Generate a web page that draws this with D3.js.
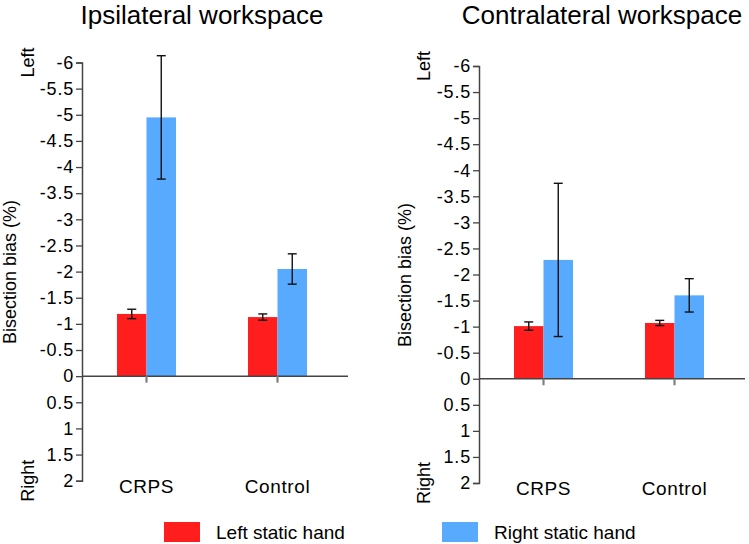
<!DOCTYPE html>
<html>
<head>
<meta charset="utf-8">
<script src="https://cdn.jsdelivr.net/npm/d3@7/dist/d3.min.js"></script>
<style>
  html, body { margin: 0; padding: 0; background: #fff; }
  svg { display: block; }
  text { font-family: "Liberation Sans", Arial, sans-serif; fill: #000; }
</style>
</head>
<body>
<svg id="chart" width="749" height="544"></svg>
<script>
// ---- data ----
const categories = ["CRPS", "Control"];
const seriesNames = ["Left static hand", "Right static hand"];
const seriesColors = ["#ff1d1d", "#57aaff"];
const yTicks = [-6, -5.5, -5, -4.5, -4, -3.5, -3, -2.5, -2, -1.5, -1, -0.5, 0, 0.5, 1, 1.5, 2];

const ipsiLeft = [-1.19, -1.13];
const ipsiLeftErr = [0.09, 0.06];
const ipsiRight = [-4.95, -2.05];
const ipsiRightErr = [1.18, 0.29];

const contraLeft = [-1.01, -1.07];
const contraLeftErr = [0.08, 0.05];
const contraRight = [-2.28, -1.60];
const contraRightErr = [1.47, 0.32];

const panelTitles = ["Ipsilateral workspace", "Contralateral workspace"];

// ---- layout ----
const svg = d3.select("#chart");
const FONT = 18;

const panels = [
  { title: panelTitles[0], x0: 82, yTop: 62.5, yBot: 480.7, titleX: 202, labX: 10, leftLabX: 27.5, labY: 272,
    values: [ipsiLeft, ipsiRight], errs: [ipsiLeftErr, ipsiRightErr] },
  { title: panelTitles[1], x0: 479, yTop: 66, yBot: 483, titleX: 602, labX: 405, leftLabX: 424, labY: 275,
    values: [contraLeft, contraRight], errs: [contraLeftErr, contraRightErr] }
];

panels.forEach(p => {
  const g = svg.append("g");
  const y = d3.scaleLinear().domain([-6, 2]).range([p.yTop, p.yBot]);
  const x = d3.scalePoint().domain(categories).range([p.x0 + 64.5, p.x0 + 195.5]);
  const xs = d3.scaleBand().domain(seriesNames).range([-29.5, 29.5]);
  const axisEnd = p.x0 + 266;

  // title
  g.append("text").attr("x", p.titleX).attr("y", 24)
    .attr("text-anchor", "middle").style("font-size", "26px").text(p.title);

  // bars
  seriesNames.forEach((s, si) => {
    g.selectAll(null).data(categories).enter().append("rect")
      .attr("x", c => x(c) + xs(s))
      .attr("width", xs.bandwidth())
      .attr("y", (c, i) => y(Math.min(0, p.values[si][i])))
      .attr("height", (c, i) => Math.abs(y(p.values[si][i]) - y(0)))
      .attr("fill", seriesColors[si]);
  });

  // error bars
  seriesNames.forEach((s, si) => {
    categories.forEach((c, i) => {
      const cx = x(c) + xs(s) + xs.bandwidth() / 2;
      const v = p.values[si][i], e = p.errs[si][i];
      const y1 = y(v - e), y2 = y(v + e);
      const eg = g.append("g").attr("stroke", "#111").attr("stroke-width", 1.4);
      eg.append("line").attr("x1", cx).attr("x2", cx).attr("y1", y1).attr("y2", y2);
      eg.append("line").attr("x1", cx - 4.5).attr("x2", cx + 4.5).attr("y1", y1).attr("y2", y1);
      eg.append("line").attr("x1", cx - 4.5).attr("x2", cx + 4.5).attr("y1", y2).attr("y2", y2);
    });
  });

  // zero line (x axis)
  g.append("line").attr("x1", p.x0).attr("x2", axisEnd)
    .attr("y1", y(0)).attr("y2", y(0))
    .attr("stroke", "#444").attr("stroke-width", 1.5);

  // category ticks
  g.selectAll(null).data(categories).enter().append("line")
    .attr("x1", c => x(c)).attr("x2", c => x(c))
    .attr("y1", y(0)).attr("y2", y(0) + 6.5)
    .attr("stroke", "#808080").attr("stroke-width", 2.2);

  // category labels
  g.selectAll(null).data(categories).enter().append("text")
    .attr("x", c => x(c)).attr("y", p.yBot + 12)
    .attr("text-anchor", "middle")
    .style("font-size", "19px").style("letter-spacing", "0.6px")
    .text(c => c);

  // y axis
  const ax = g.append("g").attr("transform", `translate(${p.x0},0)`)
    .call(d3.axisLeft(y).tickValues(yTicks).tickSize(6).tickSizeOuter(6).tickPadding(2)
      .tickFormat(d => String(d)));
  ax.select(".domain").attr("stroke", "#444").attr("stroke-width", 1.5);
  ax.selectAll(".tick line").attr("stroke", "#444").attr("stroke-width", 1.3);
  ax.selectAll(".tick text").style("font-size", FONT + "px")
    .style("font-family", '"Liberation Sans", Arial, sans-serif')
    .style("letter-spacing", "0.8px").attr("fill", "#000");

  // axis labels
  g.append("text").attr("transform", `translate(${p.labX},${p.labY}) rotate(-90)`)
    .attr("text-anchor", "middle").attr("dy", "0.35em")
    .style("font-size", FONT + "px").text("Bisection bias (%)");
  g.append("text").attr("transform", `translate(${p.leftLabX},${y(-6)}) rotate(-90)`)
    .attr("text-anchor", "middle").attr("dy", "0.35em")
    .style("font-size", FONT + "px").text("Left");
  g.append("text").attr("transform", `translate(${p.leftLabX},${y(2)}) rotate(-90)`)
    .attr("text-anchor", "middle").attr("dy", "0.35em")
    .style("font-size", FONT + "px").text("Right");
});

// legend
const legendX = [164, 442];
seriesNames.forEach((s, i) => {
  const lg = svg.append("g").attr("transform", `translate(${legendX[i]},522)`);
  lg.append("rect").attr("width", 36).attr("height", 20).attr("fill", seriesColors[i]);
  lg.append("text").attr("x", 52).attr("y", 17).style("font-size", "19px").text(s);
});
</script>
</body>
</html>
